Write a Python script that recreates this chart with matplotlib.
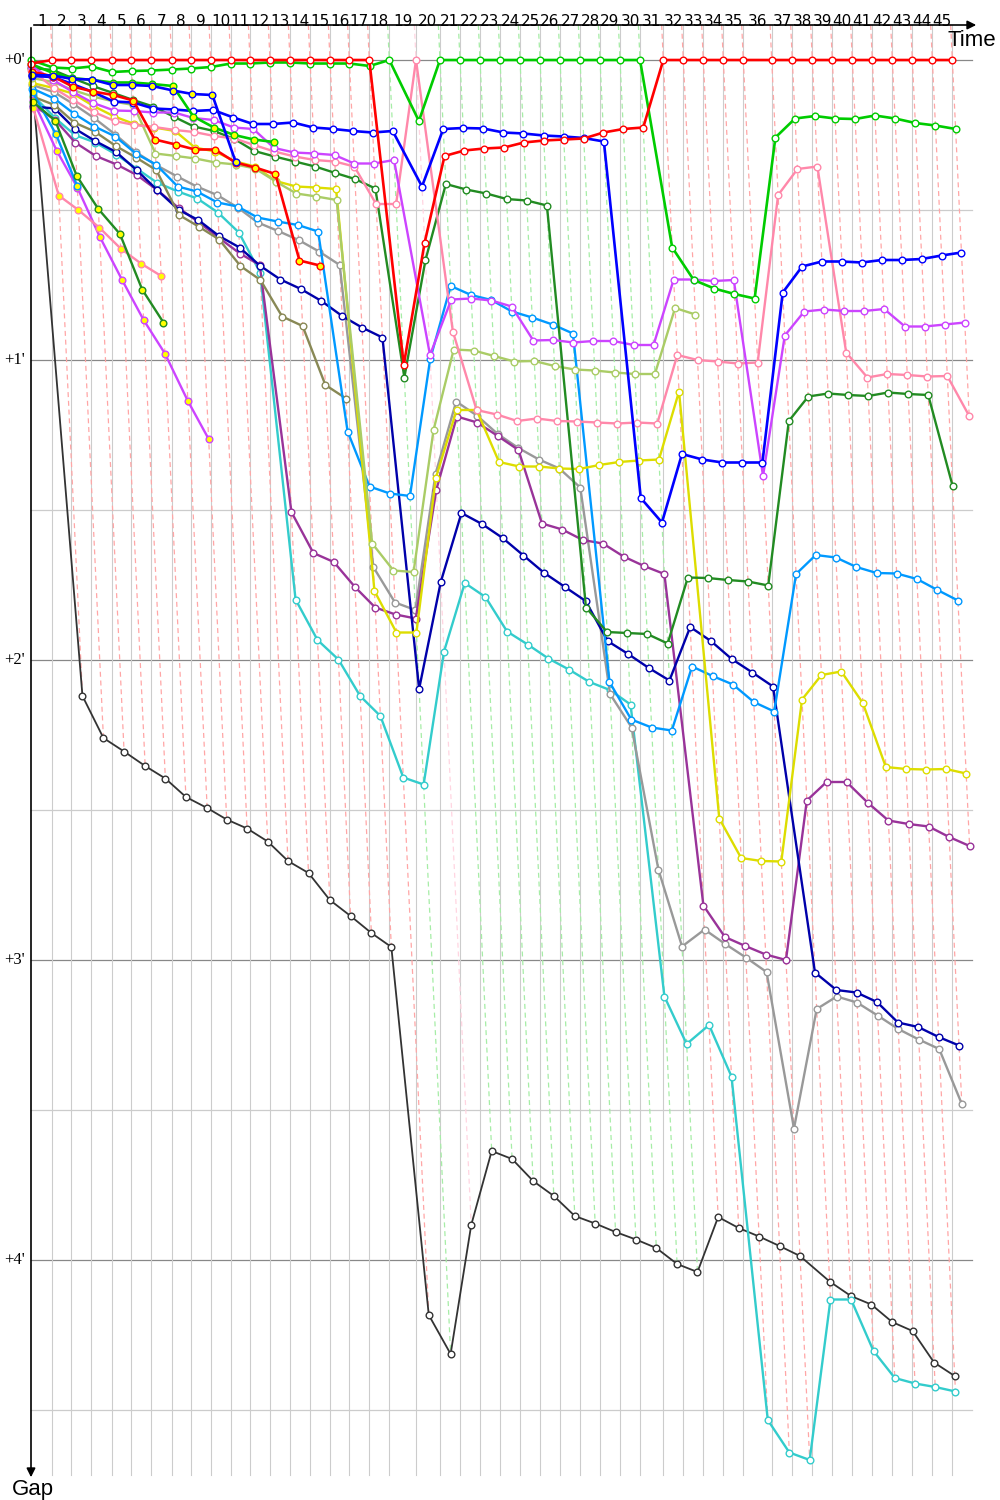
import matplotlib
matplotlib.use("Agg")
import matplotlib.pyplot as plt
import numpy as np

# Duración de cada vuelta del líder (s)
tiempos_vuelta = [90, 80, 84.4, 86.1, 82.7, 83.1, 87.4, 80.1, 84.4, 84.4,
                  81.5, 84.3, 84.4, 84.4, 84.4, 81.4, 84.4, 84.4, 112.7, 101.2,
                  84.4, 84.4, 84.4, 84.4, 84.4, 84.4, 84.4, 84.4, 84.4, 84.4,
                  98.3, 84.4, 84.4, 84.4, 84.4, 119.8, 86.9, 84.4, 84.4, 84.4,
                  84.4, 84.4, 84.4, 84.4, 84.4]

# Diferencia con el líder en cada vuelta (s), vuelta 0 = salida
gap_rojo = [0.7] + [0] * 17 + [61, 36.5, 19.2, 18.1, 17.7, 17.5, 16.5, 16.1, 15.9, 15.7,
                               14.5, 13.8, 13.5] + [0] * 15
gap_verde = [0, 1.5, 1.7, 1.3, 2.4, 2.2, 2.1, 1.9, 1.7, 1.4, 0.7, 0.7, 0.5, 0.5, 0.7, 0.7,
             0.7, 1.2, 0, 12.2] + [0] * 11 + [37.5, 44.0, 45.7, 46.8, 47.7, 15.5, 11.7, 11.2,
                                              11.7, 11.8, 11.1, 11.7, 12.6, 13.1, 13.8]
gap_rosa = [2, 5.6, 8, 10.4, 12.2, 13, 13.4, 14, 14.4, 15.2, 15.7, 17, 18.3, 19.3, 20, 20.3,
            21.3, 28.8, 28.8, 0, 54.3, 70, 70.9, 72.2, 71.7, 72.2, 72.3, 72.5, 72.7, 72.5,
            72.7, 59, 60, 60.3, 60.7, 60.5, 27, 21.8, 21.3, 58.5, 63.5, 62.8, 63, 63.3, 63.2,
            71.2]
gap_azul = [3.2, 3.4, 4.8, 6.4, 8.3, 8.5, 9.7, 9.9, 10.2, 10, 11.5, 12.8, 12.8, 12.5, 13.5,
            13.8, 14.2, 14.5, 14.2, 25.3, 13.8, 13.6, 13.7, 14.5, 14.7, 15.1, 15.3, 15.6,
            16.3, 87.6, 92.5, 78.8, 79.9, 80.5, 80.5, 80.5, 46.5, 41.3, 40.3, 40.3, 40.5, 40,
            40, 39.8, 39.1, 38.5]
gap_violeta = [1.2, 4, 6.4, 8.6, 10.1, 10.2, 10.5, 10.5, 11.6, 12, 13.5, 13.8, 17.6, 18.5,
               18.7, 19, 20.7, 20.7, 20, 59, 47.9, 47.7, 48.1, 49.3, 56.1, 56, 56.5, 56.2,
               56.2, 57, 57, 43.9, 43.9, 44.2, 44, 83.2, 55.1, 50.3, 49.9, 50.2, 50.2, 49.8,
               53.3, 53.3, 52.9, 52.5]
gap_verde_osc = [1.6, 2, 3.6, 5.2, 6.6, 8, 9.3, 11.4, 13.3, 14.2, 15.8, 18.2, 19.3, 20.3,
                 21.3, 22.6, 23.8, 25.7, 63.5, 40, 24.8, 25.9, 26.7, 27.8, 28.1, 29.1, 109.5,
                 114.4, 114.6, 114.8, 116.7, 103.5, 103.6, 104, 104.3, 105.1, 72.2, 67.3,
                 66.7, 67, 67.2, 66.5, 66.8, 67, 85.1]
gap_amarillo = [4.6, 5.6, 6.7, 9.2, 11.3, 12.8, 13.5, 14.2, 17.5, 18.3, 20.3, 21.3, 24.2,
                25.3, 25.5, 25.8, 106.2, 114.5, 114.5, 83.6, 70, 70, 80.4, 81.3, 81.3, 81.7,
                81.8, 81, 80.4, 80.1, 79.9, 66.3, 151.7, 159.6, 160.2, 160.3, 127.9, 123,
                122.3, 128.6, 141.4, 141.8, 141.9, 141.8, 142.7]
gap_oliva_claro = [3.6, 4.4, 6, 7.3, 8.3, 9, 18.7, 19.2, 19.7, 20.5, 20.9, 21.7, 24.3, 26.7,
                   27.3, 28, 96.7, 102.1, 102.4, 74, 57.9, 58.1, 59.2, 60.3, 60.2, 61.2, 61.9,
                   62.1, 62.5, 62.8, 62.8, 49.6, 50.9]
gap_gris = [5, 6.4, 8.8, 11.6, 14.9, 18.4, 21, 23.3, 25.3, 27, 29.5, 32.5, 34.2, 36, 38.3,
            41, 101.4, 108.5, 110, 82.7, 68.3, 71.1, 74.8, 77.6, 79.9, 81.7, 85.5, 126.8,
            133.5, 161.9, 177.3, 173.9, 176.8, 179.5, 182.4, 213.7, 189.8, 187.3, 188.5,
            191.1, 193.8, 195.9, 197.8, 208.8]
gap_celeste = [5.7, 7.7, 10.7, 13.3, 15.3, 18.7, 20.9, 25.3, 26.3, 28.5, 29.3, 31.5, 32.3,
               33, 34.3, 74.3, 85.3, 86.7, 87.2, 59.8, 45.2, 47, 48, 50.3, 51.5, 52.9, 54.7,
               124.4, 131.9, 133.5, 134.1, 121.3, 123.2, 124.9, 128.4, 130.3, 102.8, 99,
               99.5, 101.4, 102.6, 102.7, 103.8, 106, 108.1]
gap_cian = [7, 11.6, 15, 16.5, 18.9, 21.7, 24.5, 26.3, 27.7, 30.5, 34.5, 42.5, 107.9, 116,
            119.9, 127.2, 131.2, 143.5, 144.9, 118.3, 104.6, 107.4, 114.3, 116.9, 119.7,
            121.9, 124.4, 126, 128.9, 187.3, 196.8, 193, 203.3, 272, 278.5, 280, 247.9,
            247.9, 258.2, 263.6, 264.7, 265.4, 266.3]
gap_marino = [9.3, 9.7, 13.7, 16.2, 18.4, 22, 26, 30, 32, 35.2, 37.5, 41.1, 43.9, 45.8,
              48.2, 51.2, 53.5, 55.5, 125.8, 104.4, 90.6, 92.8, 95.6, 99.1, 102.6, 105.4,
              108.2, 116.2, 118.8, 121.6, 124.1, 113.4, 116.2, 119.8, 122.5, 125.3, 182.5,
              186, 186.5, 188.4, 192.5, 193.4, 195.4, 197.1]
gap_purpura = [9, 12, 16.5, 19.2, 20.9, 23, 26, 29.6, 32.4, 35.6, 38.7, 41, 90.4, 98.6,
               100.4, 105.4, 109.5, 110.9, 111.7, 85.9, 71.3, 72.5, 75.2, 78, 92.7, 93.9, 96,
               96.7, 99.3, 101.2, 102.8, 169.1, 175.4, 177.2, 178.9, 180, 148.1, 144.4,
               144.4, 148.5, 152.1, 152.8, 153.3, 155.4, 157.2]
gap_oliva = [7.3, 9, 12.5, 14.3, 17.2, 19.5, 22, 31, 33.3, 35.9, 41.2, 44, 51.3, 53.2, 65,
             67.7]
gap_negro = [3, 127.2, 135.6, 138.3, 141.2, 143.7, 147.4, 149.6, 151.9, 153.7, 156.3, 160.2,
             162.6, 168, 171.2, 174.6, 177.4, 251, 258.8, 233, 218.2, 219.8, 224.2, 227.2,
             231.2, 232.7, 234.4, 235.9, 237.6, 240.8, 242.4, 231.4, 233.6, 235.3, 237.2,
             239.2, 244.3, 247.2, 248.9, 252.4, 254.2, 260.5, 263.2]

# Abandonos (marcadores amarillos)
gap_azul_ab = [3, 3.1, 3.8, 3.9, 5, 5, 5.2, 6.1, 6.8, 7, 20.3]
gap_rojo_ab = [2.3, 3.3, 5.3, 6.3, 7, 8.1, 15.9, 16.9, 17.9, 17.9, 20.5, 21.5, 22.8, 40.1, 41.1]
gap_verde_ab = [0.8, 2.6, 3.6, 4, 4.5, 4.5, 4.8, 5.2, 11.3, 13.5, 15, 15.9, 16.4]
gap_verde_osc_ab = [8.4, 12.1, 23.2, 29.8, 34.8, 45.9, 52.5]
gap_celeste_ab = [6.4, 14.8, 25.2]
gap_rosa_ab = [9.6, 27.1, 30, 33.5, 37.7, 40.7, 43.2]
gap_violeta_ab = [8, 18.1, 25.5, 35.3, 44, 52, 58.7, 68.2, 75.8]

# (gaps, color, relleno marcador, grosor)
series = [
    (gap_negro, "#333333", "white", 1.3),
    (gap_cian, "#33cccc", "white", 1.7),
    (gap_gris, "#999999", "white", 1.7),
    (gap_purpura, "#993399", "white", 1.7),
    (gap_marino, "#0000aa", "white", 1.7),
    (gap_oliva, "#888855", "white", 1.7),
    (gap_celeste, "#0099ff", "white", 1.7),
    (gap_amarillo, "#dddd00", "white", 1.7),
    (gap_oliva_claro, "#aacc66", "white", 1.7),
    (gap_verde_osc, "#228b22", "white", 1.7),
    (gap_rosa, "#ff88aa", "white", 1.7),
    (gap_violeta, "#cc44ff", "white", 1.7),
    (gap_violeta_ab, "#cc44ff", "yellow", 1.7),
    (gap_rosa_ab, "#ff88aa", "yellow", 1.7),
    (gap_celeste_ab, "#0099ff", "yellow", 1.7),
    (gap_verde_osc_ab, "#228b22", "yellow", 1.7),
    (gap_azul, "#0000ff", "white", 1.9),
    (gap_verde_ab, "#00cc00", "yellow", 1.9),
    (gap_rojo_ab, "#ff0000", "yellow", 1.9),
    (gap_azul_ab, "#0000ff", "yellow", 1.9),
    (gap_verde, "#00cc00", "white", 1.9),
    (gap_rojo, "#ff0000", "white", 1.9),
]

# Escala: px = 31 + 0.237 * t (horizontal), px = 60 + 5 * gap (vertical)
SX, X0 = 0.237, 31
SY, Y0 = 5.0, 60


def t_px(px):
    return (px - X0) / SX


def g_px(py):
    return (py - Y0) / SY


T = np.concatenate([[0], np.cumsum(tiempos_vuelta)])
n_vueltas = len(tiempos_vuelta)

fig = plt.figure(figsize=(10, 15), dpi=100)
ax = fig.add_axes([0, 0, 1, 1])
ax.set_xlim(t_px(0), t_px(1000))
ax.set_ylim(g_px(1500), g_px(0))
ax.axis("off")

g_top, g_bot = g_px(25), g_px(1475)

# Rejilla horizontal
for g in range(0, 271, 30):
    col = "#888888" if g % 60 == 0 else "#cccccc"
    ax.plot([0, t_px(972)], [g, g], color=col, lw=0.9, zorder=1)
    if g % 60 == 0:
        ax.text(t_px(4), g, "+%d'" % (g // 60), ha="left", va="center",
                fontsize=12, family="Liberation Serif", zorder=5)

# Verticales en cada vuelta del líder
for n in range(1, n_vueltas + 1):
    ax.plot([T[n], T[n]], [g_top, g_bot], color="#cccccc", lw=0.8, zorder=1)


def aclarar(c, f=0.65):
    rgb = np.array(matplotlib.colors.to_rgb(c))
    return tuple(rgb * (1 - f) + f)


# Diagonal de cada vuelta: del líder hasta el último piloto en esa vuelta
for n in range(1, n_vueltas + 1):
    mejor, peor, col_lider = None, None, "#ff0000"
    for gaps, col, relleno, lw in series:
        if len(gaps) > n:
            if mejor is None or gaps[n] < mejor:
                mejor, col_lider = gaps[n], col
            if peor is None or gaps[n] > peor:
                peor = gaps[n]
    ax.plot([T[n] + g_top, T[n] + peor], [g_top, peor], color=aclarar(col_lider),
            lw=0.9, ls=(0, (4, 3)), zorder=1.5)
    ax.text((T[n - 1] + T[n]) / 2, g_px(21), str(n), ha="center", va="center",
            fontsize=11, zorder=5)

# Pilotos
for i, (gaps, col, relleno, lw) in enumerate(series):
    g = np.array(gaps)
    x = T[:len(g)] + g
    ax.plot(x, g, color=col, lw=lw, marker="o", ms=4.8, mfc=relleno, mec=col,
            mew=1.0, zorder=3 + i * 0.01)

# Ejes con flecha
ax.annotate("", xy=(t_px(979), g_top), xytext=(0, g_top),
            arrowprops=dict(arrowstyle="-|>", color="black", lw=1.2, mutation_scale=13),
            zorder=6)
ax.annotate("", xy=(0, g_px(1480)), xytext=(0, g_top),
            arrowprops=dict(arrowstyle="-|>", color="black", lw=1.2, mutation_scale=13),
            zorder=6)
ax.text(t_px(996), g_px(40), "Time", ha="right", va="center", fontsize=16,
        family="Liberation Sans", zorder=6)
ax.text(t_px(12), g_px(1489), "Gap", ha="left", va="center", fontsize=16,
        family="Liberation Sans", zorder=6)

fig.savefig("out.png", dpi=100)
